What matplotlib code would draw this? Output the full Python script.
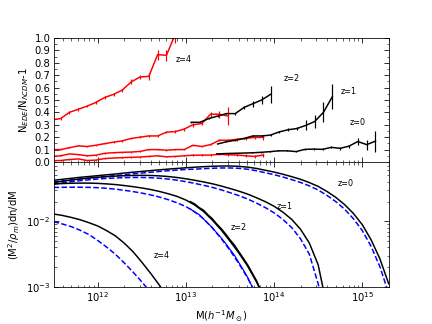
import numpy as np
import matplotlib
matplotlib.use("Agg")
import matplotlib.pyplot as plt
from matplotlib.ticker import MultipleLocator, NullFormatter

# ---- top panel: N_EDE/N_LCDM - 1 ----
red_logm = [11.48, 11.58, 11.68, 11.78, 11.88, 11.98, 12.08, 12.18, 12.28, 12.38,
            12.48, 12.58, 12.68, 12.78, 12.88, 12.98, 13.08, 13.18, 13.28, 13.38,
            13.48, 13.58, 13.68, 13.78, 13.88]
red_z4 = [0.34, 0.35, 0.40, 0.425, 0.45, 0.48, 0.52, 0.545, 0.58, 0.645,
          0.685, 0.69, 0.865, 0.86, 1.03]
red_z4_err = [0.01, 0.008, 0.01, 0.012, 0.01, 0.01, 0.012, 0.012, 0.012, 0.02,
              0.015, 0.03, 0.04, 0.045, 0.07]
red_z2 = [0.10, 0.10, 0.115, 0.13, 0.125, 0.135, 0.148, 0.16, 0.17, 0.19,
          0.20, 0.21, 0.21, 0.24, 0.245, 0.265, 0.30, 0.31, 0.385, 0.385, 0.37]
red_z2_err = [0.004, 0.004, 0.004, 0.005, 0.005, 0.005, 0.005, 0.006, 0.006, 0.007,
              0.007, 0.008, 0.008, 0.01, 0.01, 0.012, 0.014, 0.015, 0.02, 0.03, 0.07]
red_z1 = [0.045, 0.05, 0.065, 0.06, 0.05, 0.055, 0.07, 0.075, 0.078, 0.08,
          0.085, 0.10, 0.10, 0.095, 0.10, 0.10, 0.135, 0.125, 0.14, 0.175,
          0.175, 0.183, 0.19, 0.198, 0.198]
red_z1_err = [0.003, 0.003, 0.003, 0.003, 0.003, 0.003, 0.003, 0.004, 0.004, 0.004,
              0.004, 0.005, 0.005, 0.005, 0.005, 0.006, 0.006, 0.007, 0.007, 0.008,
              0.009, 0.01, 0.012, 0.014, 0.02]
red_z0 = [0.01, 0.012, 0.02, 0.025, 0.012, 0.015, 0.028, 0.032, 0.035, 0.038,
          0.04, 0.045, 0.05, 0.042, 0.045, 0.05, 0.055, 0.055, 0.056, 0.062,
          0.058, 0.056, 0.05, 0.045, 0.056]
red_z0_err = [0.003, 0.003, 0.003, 0.003, 0.003, 0.003, 0.003, 0.003, 0.003, 0.004,
              0.004, 0.004, 0.004, 0.005, 0.005, 0.005, 0.006, 0.006, 0.007, 0.008,
              0.009, 0.01, 0.012, 0.014, 0.016]

blk_logm_z2 = [13.06, 13.16, 13.26, 13.36, 13.46, 13.56, 13.66, 13.76, 13.86, 13.96]
blk_z2 = [0.32, 0.32, 0.35, 0.37, 0.39, 0.39, 0.44, 0.47, 0.50, 0.545]
blk_z2_err = [0.004, 0.005, 0.005, 0.006, 0.007, 0.008, 0.012, 0.025, 0.03, 0.07]
blk_logm_z1 = [13.36, 13.46, 13.56, 13.66, 13.76, 13.86, 13.96, 14.06, 14.16, 14.26,
               14.36, 14.46, 14.56, 14.66]
blk_z1 = [0.145, 0.163, 0.175, 0.19, 0.21, 0.21, 0.217, 0.243, 0.26, 0.27,
          0.295, 0.326, 0.40, 0.525]
blk_z1_err = [0.003, 0.003, 0.003, 0.004, 0.005, 0.006, 0.007, 0.008, 0.01, 0.015,
              0.04, 0.055, 0.08, 0.1]
blk_logm_z0 = [13.35, 13.45, 13.55, 13.65, 13.75, 13.85, 13.95, 14.05, 14.15, 14.25,
               14.35, 14.45, 14.55, 14.65, 14.75, 14.85, 14.95, 15.05, 15.15]
blk_z0 = [0.065, 0.068, 0.07, 0.072, 0.074, 0.078, 0.083, 0.09, 0.09, 0.084,
          0.102, 0.104, 0.102, 0.118, 0.11, 0.128, 0.165, 0.14, 0.168]
blk_z0_err = [0.002, 0.002, 0.002, 0.002, 0.003, 0.003, 0.003, 0.004, 0.004, 0.005,
              0.005, 0.006, 0.007, 0.008, 0.01, 0.012, 0.03, 0.04, 0.085]

# ---- bottom panel: log10[(M^2/rho_m) dn/dM], read every 0.1 dex ----
mf_logm_z0 = np.round(np.arange(11.5, 15.31, 0.1), 2)
mf_z0_ede = [-1.375, -1.360, -1.345, -1.330, -1.318, -1.305, -1.292, -1.280, -1.265, -1.252,
             -1.240, -1.228, -1.216, -1.205, -1.195, -1.185, -1.176, -1.168, -1.162, -1.158,
             -1.158, -1.163, -1.175, -1.195, -1.222, -1.250, -1.283, -1.320, -1.360, -1.410,
             -1.468, -1.545, -1.635, -1.745, -1.880, -2.050, -2.280, -2.570, -2.950]
mf_z0_lcdm = [-1.400, -1.385, -1.370, -1.355, -1.343, -1.330, -1.317, -1.305, -1.290, -1.277,
              -1.265, -1.253, -1.241, -1.230, -1.220, -1.210, -1.206, -1.198, -1.192, -1.188,
              -1.188, -1.193, -1.207, -1.230, -1.260, -1.290, -1.325, -1.365, -1.408, -1.460,
              -1.523, -1.605, -1.700, -1.815, -1.960, -2.140, -2.380, -2.690, -3.100]
mf_logm_z1 = np.round(np.arange(11.5, 14.61, 0.1), 2)
mf_z1_ede = [-1.410, -1.390, -1.372, -1.356, -1.342, -1.330, -1.320, -1.312, -1.306, -1.302,
             -1.300, -1.302, -1.308, -1.318, -1.333, -1.352, -1.375, -1.400, -1.428, -1.462,
             -1.500, -1.540, -1.585, -1.640, -1.700, -1.770, -1.860, -1.970, -2.120, -2.330,
             -2.660, -3.300]
mf_z1_lcdm = [-1.435, -1.415, -1.397, -1.381, -1.368, -1.356, -1.347, -1.340, -1.335, -1.332,
              -1.332, -1.336, -1.344, -1.356, -1.374, -1.396, -1.422, -1.451, -1.483, -1.521,
              -1.563, -1.608, -1.660, -1.722, -1.790, -1.870, -1.970, -2.095, -2.265, -2.500,
              -2.950, -3.500]
mf_logm_z2 = np.round(np.arange(11.5, 13.91, 0.1), 2)
mf_z2_ede = [-1.430, -1.425, -1.420, -1.418, -1.418, -1.422, -1.430, -1.440, -1.455, -1.472,
             -1.492, -1.515, -1.545, -1.580, -1.620, -1.675, -1.750, -1.850, -1.980, -2.130,
             -2.300, -2.480, -2.680, -2.920, -3.200]
mf_z2_lcdm = [-1.484, -1.482, -1.481, -1.481, -1.483, -1.488, -1.497, -1.510, -1.527, -1.547,
              -1.570, -1.597, -1.630, -1.670, -1.718, -1.775, -1.855, -1.960, -2.100, -2.260,
              -2.440, -2.640, -2.860, -3.120, -3.400]
sim_logm_z2 = [13.05, 13.1, 13.15, 13.2, 13.25, 13.3, 13.35, 13.4, 13.45, 13.5,
               13.55, 13.6, 13.65, 13.7, 13.75, 13.8, 13.85]
sim_z2_ede = [-1.700, -1.735, -1.790, -1.830, -1.900, -1.960, -2.040, -2.110, -2.190, -2.280,
              -2.360, -2.460, -2.560, -2.660, -2.780, -2.900, -3.050]
sim_z2_lcdm = [-1.810, -1.860, -1.895, -1.965, -2.030, -2.095, -2.175, -2.250, -2.335, -2.425,
               -2.515, -2.625, -2.735, -2.850, -2.990, -3.130, -3.300]
mf_logm_z4 = np.round(np.arange(11.5, 12.81, 0.1), 2)
mf_z4_ede = [-1.888, -1.910, -1.940, -1.975, -2.020, -2.070, -2.140, -2.220, -2.330, -2.460,
             -2.620, -2.790, -2.970, -3.170]
mf_z4_lcdm = [-2.005, -2.040, -2.080, -2.135, -2.200, -2.290, -2.390, -2.500, -2.630, -2.770,
              -2.920, -3.080, -3.250, -3.420]


def m(logm):
    return 10.0 ** np.asarray(logm, dtype=float)


fig = plt.figure(figsize=(6, 4.5), dpi=72)
ax1 = fig.add_axes([0.125, 0.5, 0.775, 0.383])
ax2 = fig.add_axes([0.125, 0.114, 0.775, 0.386], sharex=ax1)

for vals, errs in [(red_z4, red_z4_err), (red_z2, red_z2_err),
                   (red_z1, red_z1_err), (red_z0, red_z0_err)]:
    n = len(vals)
    ax1.errorbar(m(red_logm[:n]), vals, yerr=errs, color='r', lw=1.5,
                 elinewidth=1.2, capsize=0)
for lm, vals, errs in [(blk_logm_z2, blk_z2, blk_z2_err),
                       (blk_logm_z1, blk_z1, blk_z1_err),
                       (blk_logm_z0, blk_z0, blk_z0_err)]:
    ax1.errorbar(m(lm), vals, yerr=errs, color='k', lw=1.5,
                 elinewidth=1.2, capsize=0)

ax1.text(m(12.98), 0.83, 'z=4', fontsize=8, ha='center', va='center')
ax1.text(m(14.2), 0.67, 'z=2', fontsize=8, ha='center', va='center')
ax1.text(m(14.85), 0.57, 'z=1', fontsize=8, ha='center', va='center')
ax1.text(m(14.95), 0.32, 'z=0', fontsize=8, ha='center', va='center')

ax1.set_xscale('log')
ax1.set_xlim(3.2e11, 2.0e15)
ax1.set_ylim(0, 1.0)
ax1.yaxis.set_major_locator(MultipleLocator(0.1))
ax1.yaxis.set_minor_locator(MultipleLocator(0.05))
ax1.set_ylabel(r'N$_{EDE}$/N$_{\Lambda CDM}$-1', fontsize=10)
plt.setp(ax1.get_xticklabels(), visible=False)

for lm, ede, lcdm in [(mf_logm_z0, mf_z0_ede, mf_z0_lcdm),
                      (mf_logm_z1, mf_z1_ede, mf_z1_lcdm),
                      (mf_logm_z2, mf_z2_ede, mf_z2_lcdm),
                      (mf_logm_z4, mf_z4_ede, mf_z4_lcdm)]:
    ax2.plot(m(lm), m(ede), color='k', lw=1.5)
    ax2.plot(m(lm), m(lcdm), color='b', lw=1.5, ls='--')
ax2.plot(m(sim_logm_z2), m(sim_z2_ede), color='k', lw=1.5)
ax2.plot(m(sim_logm_z2), m(sim_z2_lcdm), color='b', lw=1.2)

ax2.text(m(12.72), m(-2.52), 'z=4', fontsize=8, ha='center', va='center')
ax2.text(m(13.6), m(-2.1), 'z=2', fontsize=8, ha='center', va='center')
ax2.text(m(14.12), m(-1.78), 'z=1', fontsize=8, ha='center', va='center')
ax2.text(m(14.81), m(-1.43), 'z=0', fontsize=8, ha='center', va='center')

ax2.set_yscale('log')
ax2.set_ylim(1e-3, 0.08)
ax2.set_ylabel(r'(M$^2$/$\rho_m$)dn/dM', fontsize=10)
ax2.set_xlabel(r'M($h^{-1}M_\odot$)', fontsize=10)
ax2.yaxis.set_minor_formatter(NullFormatter())

for ax in (ax1, ax2):
    ax.tick_params(which='both', direction='in', top=True, right=True, labelsize=10)
    ax.tick_params(which='major', length=5)
    ax.tick_params(which='minor', length=2.5)

fig.savefig('out.png', dpi=72)
